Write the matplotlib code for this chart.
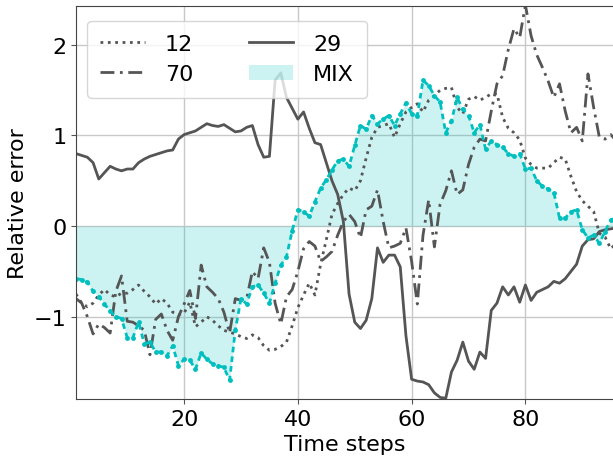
import numpy as np
import matplotlib
matplotlib.use("Agg")
import matplotlib.pyplot as plt
from matplotlib.patches import Patch
from matplotlib.lines import Line2D

steps = np.arange(1, 97)

err_12 = [-0.75, -0.85, -0.89, -0.85, -0.76, -0.70, -0.76, -0.78, -0.74, -0.74,
          -0.70, -0.65, -0.72, -0.78, -0.86, -0.80, -0.85, -0.95, -0.98, -0.96,
          -0.84, -1.11, -1.06, -1.00, -1.04, -1.10, -1.15, -1.17, -1.19, -1.22,
          -1.24, -1.20, -1.23, -1.32, -1.37, -1.36, -1.33, -1.28, -1.10, -0.90,
          -0.76, -0.63, -0.76, -0.42, -0.15, 0.13, 0.25, 0.35, 0.42, 0.39,
          0.50, 0.75, 0.98, 1.09, 1.11, 1.13, 0.98, 1.13, 1.26, 1.31,
          1.35, 1.26, 1.39, 1.44, 1.50, 1.52, 1.53, 1.31, 1.24, 1.40,
          1.43, 1.39, 1.42, 1.46, 1.46, 1.20, 1.08, 1.03, 0.95, 0.75,
          0.68, 0.64, 0.64, 0.64, 0.70, 0.76, 0.74, 0.55, 0.38, 0.28,
          0.22, 0.16, -0.08, -0.12, -0.25, -0.19]

err_70 = [-0.80, -0.85, -1.00, -1.19, -1.08, -1.12, -1.18, -0.72, -0.55, -1.05,
          -1.06, -1.10, -1.15, -1.42, -1.03, -0.97, -1.15, -1.26, -1.00, -0.86,
          -0.71, -1.02, -0.43, -0.67, -0.73, -0.80, -0.95, -1.18, -0.80, -0.82,
          -0.80, -0.50, -0.58, -0.24, -0.40, -0.85, -1.08, -0.78, -0.70, -0.50,
          -0.25, -0.17, -0.22, -0.39, -0.34, -0.28, -0.10, 0.05, 0.13, 0.05,
          -0.13, 0.18, 0.22, 0.40, 0.05, -0.24, -0.22, -0.19, -0.02, -0.39,
          -0.86, -0.10, 0.29, -0.23, 0.24, 0.39, 0.61, 0.35, 0.40, 0.68,
          0.87, 0.96, 0.94, 1.27, 1.57, 1.66, 1.95, 2.18, 2.08, 2.44,
          2.10, 1.89, 1.75, 1.60, 1.42, 1.57, 1.27, 1.03, 1.09, 0.94,
          1.68, 1.31, 0.98, 0.96, 1.01, 0.94]

err_29 = [0.80, 0.78, 0.76, 0.70, 0.52, 0.59, 0.66, 0.63, 0.61, 0.63,
          0.63, 0.70, 0.74, 0.77, 0.79, 0.81, 0.83, 0.84, 0.96, 1.01,
          1.03, 1.05, 1.09, 1.13, 1.11, 1.10, 1.12, 1.08, 1.04, 1.05,
          1.09, 1.11, 0.90, 0.76, 0.77, 1.61, 1.69, 1.42, 1.30, 1.18,
          1.26, 1.08, 0.92, 0.90, 0.70, 0.50, 0.35, 0.05, -0.75, -1.06,
          -1.13, -1.04, -0.80, -0.24, -0.40, -0.32, -0.32, -0.45, -1.21, -1.69,
          -1.71, -1.72, -1.75, -1.84, -1.89, -1.90, -1.61, -1.48, -1.28, -1.49,
          -1.58, -1.39, -1.46, -0.93, -0.85, -0.67, -0.76, -0.67, -0.84, -0.65,
          -0.82, -0.73, -0.70, -0.67, -0.61, -0.63, -0.58, -0.50, -0.42, -0.22,
          -0.15, -0.14, -0.06, -0.04, -0.03, -0.02]

err_mix = [-0.58, -0.59, -0.62, -0.72, -0.78, -0.86, -0.94, -1.00, -1.02, -1.23,
           -1.23, -1.06, -1.30, -1.28, -1.39, -1.39, -1.43, -1.32, -1.54, -1.47,
           -1.48, -1.58, -1.40, -1.47, -1.52, -1.54, -1.56, -1.70, -1.15, -0.80,
           -0.86, -0.67, -0.65, -0.74, -0.85, -0.63, -0.43, -0.34, -0.05, 0.18,
           0.16, 0.11, 0.27, 0.42, 0.51, 0.62, 0.72, 0.74, 0.66, 0.89,
           1.11, 1.07, 1.22, 1.13, 1.18, 1.22, 1.11, 1.24, 1.36, 1.24,
           1.22, 1.61, 1.55, 1.44, 1.37, 1.03, 1.16, 1.42, 1.29, 1.22,
           1.03, 1.12, 0.85, 0.94, 0.90, 0.87, 0.80, 0.77, 0.80, 0.63,
           0.64, 0.50, 0.44, 0.41, 0.37, 0.09, 0.09, 0.16, 0.18, -0.04,
           -0.13, -0.10, -0.19, -0.06, 0.07, 0.09]

gray = "#555555"
cyan = "#00bfbf"
dashdot = (0, (5, 2, 1, 2))

fig = plt.figure(figsize=(6.13, 4.6), dpi=100)
ax = fig.add_axes([0.124, 0.130, 0.876, 0.855])

ax.grid(True, color="#c8c8c8", linewidth=1.0)
ax.set_axisbelow(True)

ax.fill_between(steps, 0, err_mix, color=cyan, alpha=0.2, linewidth=0)
ax.plot(steps, err_12, color=gray, linestyle=":", linewidth=2)
ax.plot(steps, err_70, color=gray, linestyle=dashdot, linewidth=2)
ax.plot(steps, err_29, color=gray, linestyle="-", linewidth=2)
ax.plot(steps, err_mix, color=cyan, linestyle=(0, (2, 1.5)), linewidth=2,
        marker="o", markersize=3.5, markeredgewidth=0)

ax.set_xlim(1, 95.4)
ax.set_ylim(-1.91, 2.43)
ax.set_xticks([20, 40, 60, 80])
ax.set_yticks([-1, 0, 1, 2])
ax.set_yticklabels(["\u22121", "0", "1", "2"])
ax.tick_params(labelsize=16, color=gray)
for s in ["left", "bottom", "top"]:
    ax.spines[s].set_color("#444444")
ax.spines["right"].set_visible(False)

ax.set_xlabel("Time steps", fontsize=16)
ax.set_ylabel("Relative error", fontsize=16)

handles = [
    Line2D([], [], color=gray, linestyle=":", linewidth=2),
    Line2D([], [], color=gray, linestyle=dashdot, linewidth=2),
    Line2D([], [], color=gray, linestyle="-", linewidth=2),
    Patch(facecolor=cyan, alpha=0.2),
]
ax.legend(handles, ["12", "70", "29", "MIX"], ncol=2, loc="upper left",
          fontsize=16, columnspacing=2.5, handlelength=2.0, handletextpad=0.9,
          labelspacing=0.45, borderpad=0.6, bbox_to_anchor=(0.0, 0.99))

fig.savefig("out.png", dpi=100)
